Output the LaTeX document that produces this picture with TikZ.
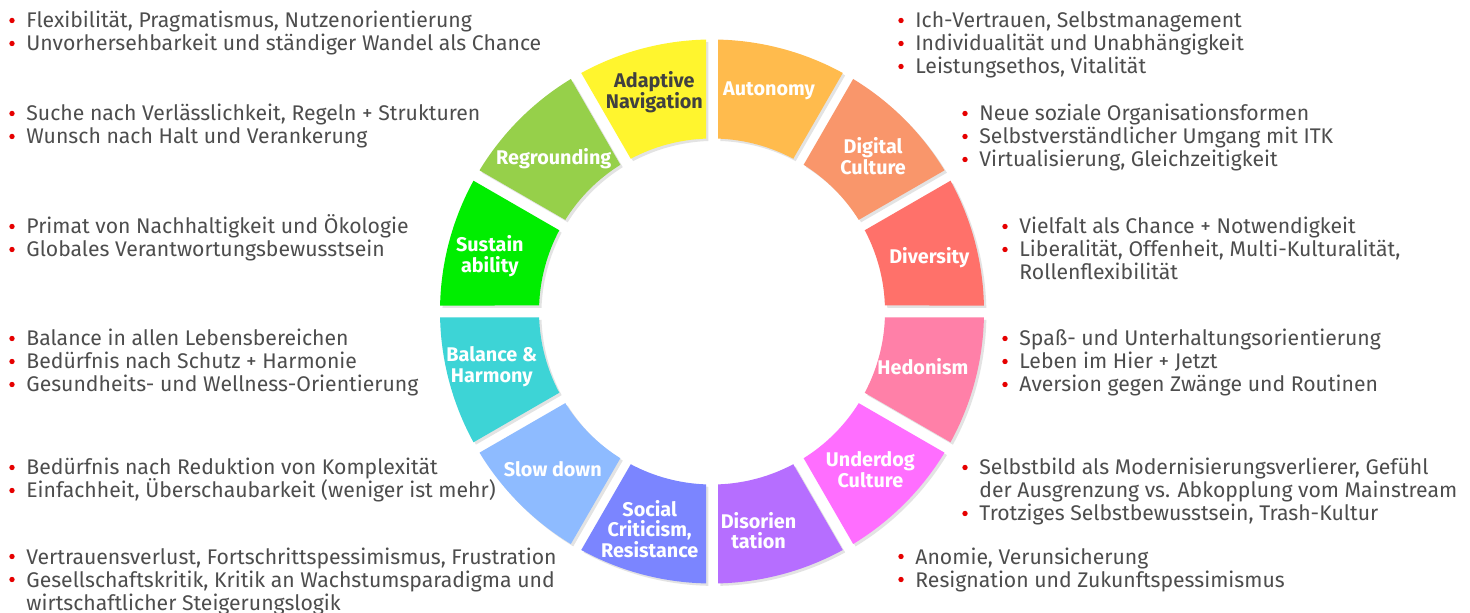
\documentclass[tikz,border=0pt]{standalone}
\usepackage{fontspec}
\setmainfont{Fira Sans}
\usetikzlibrary{shadows}
\definecolor{bred}{HTML}{E60000}
\definecolor{tgray}{HTML}{4D4D4D}
\definecolor{cAut}{HTML}{FFBB4D}
\definecolor{cDig}{HTML}{F9966B}
\definecolor{cDiv}{HTML}{FF716A}
\definecolor{cHed}{HTML}{FF80A8}
\definecolor{cUnd}{HTML}{FF6EFF}
\definecolor{cDis}{HTML}{B66EFF}
\definecolor{cSoc}{HTML}{7B85FF}
\definecolor{cSlo}{HTML}{8EBBFF}
\definecolor{cBal}{HTML}{3DD4D6}
\definecolor{cSus}{HTML}{00EE00}
\definecolor{cReg}{HTML}{96D04A}
\definecolor{cAda}{HTML}{FFF52E}
\definecolor{dgray}{HTML}{404040}
\tikzset{
  txt/.style={anchor=base west, inner sep=0pt, text=tgray, font=\fontsize{10.6}{11.5}\selectfont},
  seglabel/.style={align=center, text=white, font=\bfseries\fontsize{9.9}{10.3}\selectfont, inner sep=0pt},
  segshape/.style={draw=none, drop shadow={shadow xshift=1.2pt, shadow yshift=-1.2pt, opacity=0.22}},
  bulletdot/.style={fill=bred},
}
\newcommand\bl[4]{\fill[bulletdot] (#2-14,#3-7.5) circle[radius=2.7];
  \node[txt] (#1) at (#2,#3) {#4};}
\newcommand\cl[4]{\node[txt] (#1) at (#2,#3) {#4};}
\newcommand\seg[3]{%
  \fill[#3, segshape] (#1+1.264:272) arc[start angle=#1+1.264, end angle=#2-1.264, radius=272]
    -- (#2-1.988:173) arc[start angle=#2-1.988, end angle=#1+1.988, radius=173] -- cycle;}
\begin{document}
\begin{tikzpicture}[x=0.5pt, y=-0.5pt]
\fill[white] (0,0) rectangle (1470,613);
\useasboundingbox (0,0) rectangle (1470,613);
\begin{scope}[shift={(712,311.5)}, y=0.5pt]
  \seg{60}{90}{cAut}
  \seg{30}{60}{cDig}
  \seg{0}{30}{cDiv}
  \seg{-30}{0}{cHed}
  \seg{-60}{-30}{cUnd}
  \seg{-90}{-60}{cDis}
  \seg{-120}{-90}{cSoc}
  \seg{-150}{-120}{cSlo}
  \seg{-180}{-150}{cBal}
  \seg{150}{180}{cSus}
  \seg{120}{150}{cReg}
  \seg{90}{120}{cAda}
  \node[seglabel] (lAut) at (75.5:228) {Autonomy};
  \node[seglabel] (lDig) at (44:224) {Digital\\Culture};
  \node[seglabel] (lDiv) at (14:224) {Diversity};
  \node[seglabel] (lHed) at (-14.7:218) {Hedonism};
  \node[seglabel] (lUnd) at (-45:224) {Underdog\\Culture};
  \node[seglabel] (lDis) at (-78:224) {Disorien\\tation};
  \node[seglabel] (lSoc) at (-106:226) {Social\\Criticism,\\Resistance};
  \node[seglabel] (lSlo) at (-135.3:224) {Slow down};
  \node[seglabel] (lBal) at (194:227) {Balance \&\\Harmony};
  \node[seglabel] (lSus) at (166:229) {Sustain\\ability};
  \node[seglabel] (lReg) at (136:220) {Regrounding};
  \node[seglabel, text=dgray] (lAda) at (104.7:227) {Adaptive\\Navigation};
\end{scope}
% left lists
\bl{a1}{26}{28}{Flexibilität, Pragmatismus, Nutzenorientierung}
\bl{a2}{26}{51}{Unvorhersehbarkeit und ständiger Wandel als Chance}
\bl{b1}{26}{121}{Suche nach Verlässlichkeit, Regeln + Strukturen}
\bl{b2}{26}{144}{Wunsch nach Halt und Verankerung}
\bl{c1}{26}{234}{Primat von Nachhaltigkeit und Ökologie}
\bl{c2}{26}{257}{Globales Verantwortungsbewusstsein}
\bl{d1}{26}{346}{Balance in allen Lebensbereichen}
\bl{d2}{26}{369}{Bedürfnis nach Schutz + Harmonie}
\bl{d3}{26}{392}{Gesundheits- und Wellness-Orientierung}
\bl{e1}{26}{475}{Bedürfnis nach Reduktion von Komplexität}
\bl{e2}{26}{498}{Einfachheit, Überschaubarkeit (weniger ist mehr)}
\bl{f1}{26}{564}{Vertrauensverlust, Fortschrittspessimismus, Frustration}
\bl{f2}{26}{587}{Gesellschaftskritik, Kritik an Wachstumsparadigma und}
\cl{f3}{26}{610}{wirtschaftlicher Steigerungslogik}
% right lists
\bl{g1}{915}{28}{Ich-Vertrauen, Selbstmanagement}
\bl{g2}{915}{51}{Individualität und Unabhängigkeit}
\bl{g3}{915}{74}{Leistungsethos, Vitalität}
\bl{h1}{979}{121}{Neue soziale Organisationsformen}
\bl{h2}{979}{144}{Selbstverständlicher Umgang mit ITK}
\bl{h3}{979}{167}{Virtualisierung, Gleichzeitigkeit}
\bl{i1}{1019}{234}{Vielfalt als Chance + Notwendigkeit}
\bl{i2}{1019}{257}{Liberalität, Offenheit, Multi-Kulturalität,}
\cl{i3}{1019}{280}{Rollenflexibilität}
\bl{j1}{1019}{346}{Spaß- und Unterhaltungsorientierung}
\bl{j2}{1019}{369}{Leben im Hier + Jetzt}
\bl{j3}{1019}{392}{Aversion gegen Zwänge und Routinen}
\bl{k1}{979}{475}{Selbstbild als Modernisierungsverlierer, Gefühl}
\cl{k2}{979}{498}{der Ausgrenzung vs. Abkopplung vom Mainstream}
\bl{k3}{979}{521}{Trotziges Selbstbewusstsein, Trash-Kultur}
\bl{m1}{915}{564}{Anomie, Verunsicherung}
\bl{m2}{915}{587}{Resignation und Zukunftspessimismus}
\end{tikzpicture}
\end{document}
